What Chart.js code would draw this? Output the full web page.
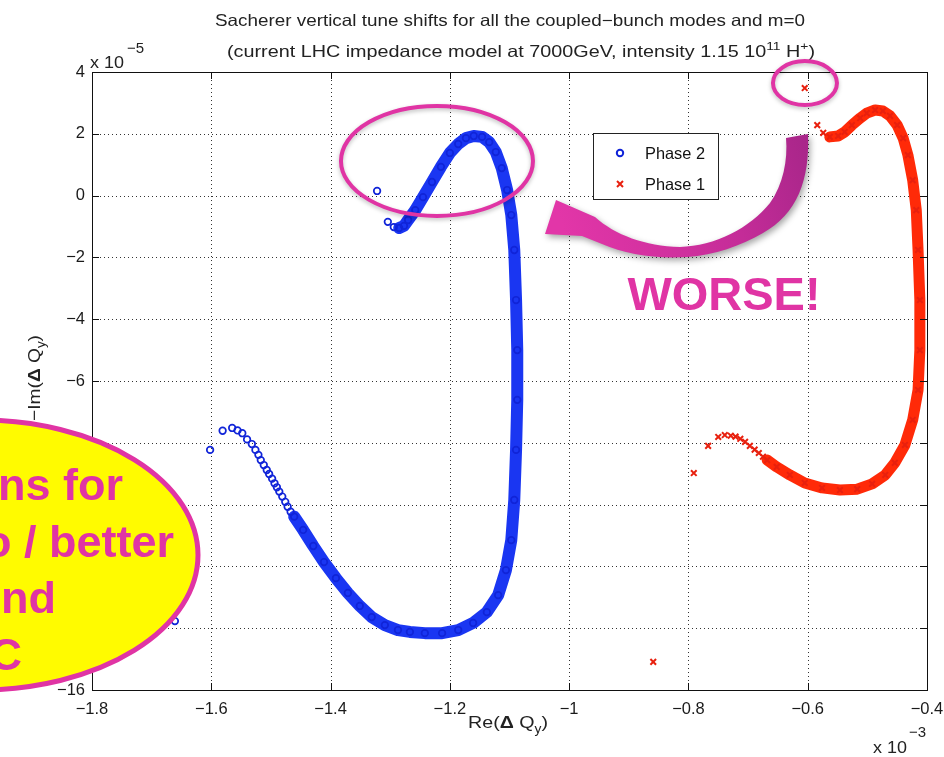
<!DOCTYPE html>
<html><head><meta charset="utf-8">
<script src="https://cdn.jsdelivr.net/npm/chart.js@4.4.0/dist/chart.umd.min.js"></script>
<style>html,body{margin:0;padding:0;background:#fff;overflow:hidden}canvas{display:block}</style>
</head><body>
<canvas id="c" width="944" height="757"></canvas>
<script>
// Phase 2 (blue circles), Re in 1e-3, Im in 1e-5
const phase2Re = [-1.322,-1.304,-1.294,-1.285,-1.277,-1.270,-1.258,-1.245,-1.230,-1.215,-1.200,-1.186,-1.173,-1.160,-1.146,-1.134,-1.123,-1.113,-1.104,-1.097,-1.092,-1.089,-1.087,-1.087,-1.089,-1.092,-1.097,-1.106,-1.119,-1.138,-1.161,-1.186,-1.213,-1.242,-1.267,-1.287,-1.309,-1.331,-1.351,-1.371,-1.391,-1.411,-1.429,-1.446,-1.461,-1.467,-1.472,-1.476,-1.481,-1.486,-1.490,-1.494,-1.498,-1.503,-1.507,-1.512,-1.517,-1.521,-1.526,-1.532,-1.540,-1.548,-1.556,-1.565,-1.581,-1.602,-1.661];
const phase2Im = [0.15,-0.85,-1.02,-1.05,-0.98,-0.79,-0.47,-0.05,0.44,0.93,1.38,1.67,1.86,1.93,1.90,1.73,1.41,0.89,0.18,-0.63,-1.76,-3.38,-5.00,-6.61,-8.23,-9.85,-11.15,-12.12,-12.93,-13.48,-13.83,-14.06,-14.16,-14.16,-14.12,-14.06,-13.90,-13.64,-13.28,-12.86,-12.38,-11.86,-11.34,-10.82,-10.39,-10.23,-10.07,-9.91,-9.74,-9.58,-9.44,-9.31,-9.16,-9.01,-8.88,-8.72,-8.56,-8.39,-8.23,-8.04,-7.89,-7.69,-7.60,-7.52,-7.61,-8.23,-13.77];
// Phase 1 (red crosses)
const phase1Re = [-0.605,-0.584,-0.574,-0.563,-0.549,-0.538,-0.526,-0.512,-0.501,-0.487,-0.474,-0.462,-0.450,-0.440,-0.432,-0.424,-0.418,-0.415,-0.412,-0.412,-0.415,-0.424,-0.437,-0.454,-0.470,-0.492,-0.517,-0.546,-0.576,-0.605,-0.630,-0.652,-0.668,-0.675,-0.682,-0.689,-0.697,-0.705,-0.713,-0.721,-0.729,-0.739,-0.750,-0.767,-0.791,-0.859];
const phase1Im = [3.48,2.28,2.03,1.90,1.93,2.06,2.28,2.51,2.67,2.77,2.74,2.58,2.28,1.86,1.31,0.50,-0.47,-1.76,-3.38,-5.00,-6.29,-7.26,-8.07,-8.65,-9.04,-9.33,-9.50,-9.53,-9.46,-9.30,-9.04,-8.78,-8.56,-8.45,-8.33,-8.22,-8.10,-7.97,-7.87,-7.80,-7.77,-7.75,-7.81,-8.10,-8.98,-15.09];
// index ranges where the markers are packed so densely they form a solid band
const phase2Band = [3, 44];
const phase1Band = [3, 32];

const xTicks = [-1.8,-1.6,-1.4,-1.2,-1.0,-0.8,-0.6,-0.4];
const xTickLabels = ['\u22121.8','\u22121.6','\u22121.4','\u22121.2','\u22121','\u22120.8','\u22120.6','\u22120.4'];
const yTicks = [-16,-14,-12,-10,-8,-6,-4,-2,0,2,4];
const yTickLabels = ['\u221216','\u221214','\u221212','\u221210','\u22128','\u22126','\u22124','\u22122','0','2','4'];

const FONT = "'Liberation Sans', Arial, Helvetica, sans-serif";
const BLUE_PT = '#1024d8', BLUE_BAND = '#1a36f2';
const RED_PT = '#e8200e', RED_BAND = '#ff2a08';
const PINK = '#e034a4';

function pts(re, im){ return re.map((x,i)=>({x:x, y:im[i]})); }
function bandSeg(band, color, w){
  const inB = c => c.p0DataIndex >= band[0] && c.p1DataIndex <= band[1];
  return {
    borderColor: c => inB(c) ? color : 'rgba(0,0,0,0)',
    borderWidth: c => inB(c) ? w : 0
  };
}

function measureRich(ctx, parts, size){
  return parts.map(p=>{
    const s = (p.sup||p.sub) ? size*0.7 : size;
    ctx.font = (p.bold?'bold ':'') + s + 'px ' + FONT;
    return ctx.measureText(p.t).width;
  });
}
function richText(ctx, parts, x, y, size, align, targetW){
  const widths = measureRich(ctx, parts, size);
  const total = widths.reduce((a,b)=>a+b,0);
  const sx = targetW ? targetW/total : 1;
  ctx.save();
  ctx.translate(x, y); ctx.scale(sx, 1);
  let cx = align==='center' ? -total/2 : (align==='right' ? -total : 0);
  parts.forEach((p,i)=>{
    const s = (p.sup||p.sub) ? size*0.7 : size;
    ctx.font = (p.bold?'bold ':'') + s + 'px ' + FONT;
    const dy = p.sup ? -size*0.45 : (p.sub ? size*0.3 : 0);
    ctx.textAlign='left';
    ctx.fillText(p.t, cx, dy);
    cx += widths[i];
  });
  ctx.restore();
}

const matlabPlugin = {
  id:'matlab',
  beforeDatasetsDraw(chart){
    const {ctx, chartArea:a, scales:{x,y}} = chart;
    ctx.save();
    ctx.strokeStyle='#333'; ctx.lineWidth=1; ctx.setLineDash([1,3]);
    xTicks.forEach(v=>{ const px=Math.round(x.getPixelForValue(v))+0.5;
      if(px>a.left+2 && px<a.right-2){ctx.beginPath();ctx.moveTo(px,a.top);ctx.lineTo(px,a.bottom);ctx.stroke();}});
    yTicks.forEach(v=>{ const py=Math.round(y.getPixelForValue(v))+0.5;
      if(py>a.top+2 && py<a.bottom-2){ctx.beginPath();ctx.moveTo(a.left,py);ctx.lineTo(a.right,py);ctx.stroke();}});
    ctx.restore();
  },
  afterDatasetsDraw(chart){
    const {ctx, chartArea:a, scales:{x,y}} = chart;
    ctx.save();
    ctx.strokeStyle='#111'; ctx.lineWidth=1; ctx.setLineDash([]);
    ctx.strokeRect(Math.round(a.left)+0.5, Math.round(a.top)+0.5, Math.round(a.right-a.left), Math.round(a.bottom-a.top));
    const L=7;
    ctx.beginPath();
    xTicks.forEach(v=>{ const px=Math.round(x.getPixelForValue(v))+0.5;
      ctx.moveTo(px,a.bottom);ctx.lineTo(px,a.bottom-L); ctx.moveTo(px,a.top);ctx.lineTo(px,a.top+L);});
    yTicks.forEach(v=>{ const py=Math.round(y.getPixelForValue(v))+0.5;
      ctx.moveTo(a.left,py);ctx.lineTo(a.left+L,py); ctx.moveTo(a.right,py);ctx.lineTo(a.right-L,py);});
    ctx.stroke();
    ctx.restore();
  },
  afterDraw(chart){
    const {ctx, chartArea:a, scales:{x,y}} = chart;
    const ds = chart.data.datasets;
    ctx.save();
    ctx.fillStyle='#222'; ctx.textBaseline='alphabetic';
    // title (stretched like the MATLAB font)
    richText(ctx, [{t:'Sacherer vertical tune shifts for all the coupled\u2212bunch modes and m=0'}], 510, 26, 16.5, 'center', 590);
    richText(ctx, [{t:'(current LHC impedance model at 7000GeV, intensity 1.15 10'},{t:'11',sup:true},{t:' H'},{t:'+',sup:true},{t:')'}], 521, 57, 16.5, 'center', 588);
    // exponents
    richText(ctx, [{t:'x 10'}], a.left-2, 68, 16.5, 'left', 34);
    ctx.font='15px '+FONT; ctx.textAlign='left'; ctx.fillText('\u22125', a.left+35, 53);
    richText(ctx, [{t:'x 10'}], 873, 753, 16.5, 'left', 34);
    ctx.font='15px '+FONT; ctx.textAlign='left'; ctx.fillText('\u22123', 909, 737);
    // axis titles
    richText(ctx, [{t:'Re('},{t:'\u0394',bold:true},{t:' Q'},{t:'y',sub:true},{t:')'}], 508, 728, 17, 'center', 80);
    ctx.save(); ctx.translate(40, 378); ctx.rotate(-Math.PI/2);
    richText(ctx, [{t:'\u2212Im('},{t:'\u0394',bold:true},{t:' Q'},{t:'y',sub:true},{t:')'}], 0, 0, 17, 'center', 86);
    ctx.restore();
    // legend
    const lx=593, ly=133, lw=125, lh=66;
    ctx.fillStyle='#fff'; ctx.fillRect(lx,ly,lw,lh);
    ctx.strokeStyle='#222'; ctx.lineWidth=1; ctx.strokeRect(lx+0.5,ly+0.5,lw,lh);
    [ds[0], ds[1]].forEach((d,i)=>{
      const my = ly+20+i*31;
      ctx.strokeStyle=d.pointBorderColor; ctx.lineWidth=2;
      ctx.beginPath();
      if(d.pointStyle==='circle'){ ctx.arc(lx+27,my,3.2,0,Math.PI*2); }
      else { const r=3; ctx.moveTo(lx+27-r,my-r);ctx.lineTo(lx+27+r,my+r);ctx.moveTo(lx+27+r,my-r);ctx.lineTo(lx+27-r,my+r);}
      ctx.stroke();
      ctx.fillStyle='#111'; ctx.textBaseline='middle';
      richText(ctx, [{t:d.label}], lx+52, my+1, 16.5, 'left', 60);
    });
    ctx.textBaseline='alphabetic';
    // annotation ellipses
    ctx.lineWidth=4; ctx.strokeStyle=PINK;
    ctx.shadowColor='rgba(0,0,0,0.25)'; ctx.shadowBlur=4; ctx.shadowOffsetY=2;
    ctx.beginPath(); ctx.ellipse(x.getPixelForValue(-1.2216), y.getPixelForValue(1.12), 96, 55, 0, 0, Math.PI*2); ctx.stroke();
    ctx.beginPath(); ctx.ellipse(x.getPixelForValue(-0.6046), y.getPixelForValue(3.64), 32, 22, 0, 0, Math.PI*2); ctx.stroke();
    // curved arrow
    const g = ctx.createLinearGradient(805,140,560,220);
    g.addColorStop(0,'#a9268a'); g.addColorStop(0.35,'#c42c98'); g.addColorStop(1,'#e236a8');
    ctx.fillStyle=g; ctx.shadowColor='rgba(0,0,0,0.35)'; ctx.shadowBlur=6; ctx.shadowOffsetX=2; ctx.shadowOffsetY=3;
    ctx.beginPath();
    ctx.moveTo(808,134);
    ctx.bezierCurveTo(810,180,797,214,763,233);
    ctx.bezierCurveTo(740,246,715,255,687,257);
    ctx.bezierCurveTo(655,259,625,254,602,244);
    ctx.lineTo(582,236);
    ctx.lineTo(545,234);
    ctx.lineTo(556,200);
    ctx.lineTo(595,217);
    ctx.bezierCurveTo(615,235,645,246,680,247);
    ctx.bezierCurveTo(715,246,750,228,770,203);
    ctx.bezierCurveTo(783,185,788,160,786,138);
    ctx.closePath(); ctx.fill();
    ctx.shadowColor='transparent'; ctx.shadowBlur=0; ctx.shadowOffsetX=0; ctx.shadowOffsetY=0;
    // WORSE!
    ctx.fillStyle=PINK; ctx.font='bold 47px '+FONT; ctx.textAlign='center';
    ctx.fillText('WORSE!', 724, 310);
    // yellow callout
    ctx.beginPath(); ctx.ellipse(-20, 555, 218, 135, 0, 0, Math.PI*2);
    ctx.fillStyle='#fffb00'; ctx.fill();
    ctx.lineWidth=5; ctx.strokeStyle=PINK; ctx.stroke();
    ctx.fillStyle=PINK; ctx.font='bold 45px '+FONT; ctx.textAlign='right';
    ctx.fillText('ns for', 123, 500);
    ctx.fillText('o / better', 174, 557);
    ctx.fillText('nd', 56, 613);
    ctx.fillText('C', 22, 670);
    ctx.restore();
  }
};

new Chart(document.getElementById('c'), {
  type:'scatter',
  data:{ datasets:[
    { label:'Phase 2', data:pts(phase2Re, phase2Im), showLine:true, tension:0,
      borderColor:BLUE_BAND, borderWidth:12, borderCapStyle:'round', borderJoinStyle:'round',
      segment: bandSeg(phase2Band, BLUE_BAND, 12),
      pointStyle:'circle', pointRadius:3.3, pointBorderWidth:1.7,
      pointBorderColor:BLUE_PT, pointBackgroundColor:'rgba(0,0,0,0)' },
    { label:'Phase 1', data:pts(phase1Re, phase1Im), showLine:true, tension:0,
      borderColor:RED_BAND, borderWidth:11, borderCapStyle:'round', borderJoinStyle:'round',
      segment: bandSeg(phase1Band, RED_BAND, 11),
      pointStyle:'crossRot', pointRadius:4, pointBorderWidth:2,
      pointBorderColor:RED_PT, pointBackgroundColor:RED_PT }
  ]},
  options:{
    responsive:false, animation:false, devicePixelRatio:1,
    layout:{ padding:{left:0, right:17, top:72, bottom:0} },
    plugins:{ legend:{display:false}, tooltip:{enabled:false}, title:{display:false} },
    scales:{
      x:{ type:'linear', min:-1.8, max:-0.4,
        afterBuildTicks: s => { s.ticks = xTicks.map(v=>({value:v})); },
        afterFit: s => { s.height = 67; s.paddingLeft = 0; s.paddingRight = 0; },
        grid:{display:false, drawTicks:false}, border:{display:false},
        ticks:{ padding:10, color:'#1a1a1a', font:{family:FONT, size:16.5},
          callback: v => xTickLabels[xTicks.findIndex(t=>Math.abs(t-v)<1e-9)] } },
      y:{ type:'linear', min:-16, max:4,
        afterBuildTicks: s => { s.ticks = yTicks.map(v=>({value:v})); },
        afterFit: s => { s.width = 92; s.paddingTop = 0; s.paddingBottom = 0; },
        grid:{display:false, drawTicks:false}, border:{display:false},
        ticks:{ padding:7, color:'#1a1a1a', font:{family:FONT, size:16.5},
          callback: v => yTickLabels[yTicks.findIndex(t=>Math.abs(t-v)<1e-9)] } }
    }
  },
  plugins:[matlabPlugin]
});
</script>
</body></html>
